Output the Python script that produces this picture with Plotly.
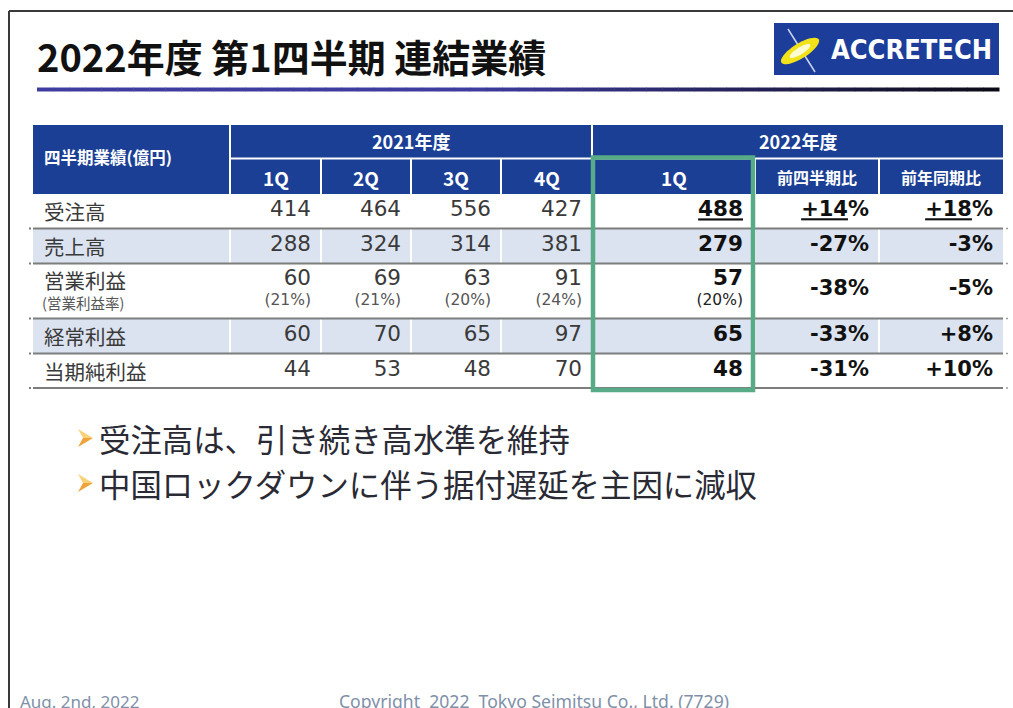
import numpy as np
import plotly.graph_objects as go

# ---------------- data ----------------
title_text = "2022年度 第1四半期 連結業績"
corner_header = "四半期業績(億円)"
fy2021_label = "2021年度"
fy2022_label = "2022年度"
fy2021_quarters = ["1Q", "2Q", "3Q", "4Q"]
fy2022_columns = ["1Q", "前四半期比", "前年同期比"]
row_labels = ["受注高", "売上高", "営業利益", "経常利益", "当期純利益"]
margin_label = "(営業利益率)"

q1_2021 = [414, 288, 60, 60, 44]
q2_2021 = [464, 324, 69, 70, 53]
q3_2021 = [556, 314, 63, 65, 48]
q4_2021 = [427, 381, 91, 97, 70]
op_margin_2021 = [21, 21, 20, 24]
q1_2022 = [488, 279, 57, 65, 48]
op_margin_2022 = 20
qoq_change = [14, -27, -38, -33, -31]
yoy_change = [18, -3, -5, 8, 10]

bullets = ["受注高は、引き続き高水準を維持", "中国ロックダウンに伴う据付遅延を主因に減収"]
footer_date = "Aug. 2nd, 2022"
footer_copy = "Copyright  2022  Tokyo Seimitsu Co., Ltd. (7729)"

# ---------------- layout constants ----------------
W, H = 1013, 708
JP = "Noto Sans CJK JP"
NUM = "DejaVu Sans"
HEAD_BLUE = "#1b3f95"
ROW_BLUE = "#dbe3f0"
GREEN = "#57ab86"

col_edges = [33, 230, 321, 411, 501, 592, 755, 879, 1003]
hdr_top, hdr_mid, hdr_bot = 125, 159, 194
row_edges = [194, 228.5, 263.5, 318.5, 353.5, 388]
row_y = [211, 245.5, 279.5, 336, 370.5]
margin_y = 301
pct_row_y = [211, 245.5, 290, 336, 370.5]
pad = 10

fig = go.Figure()
shapes = []
ann = []

# slide border
shapes.append(dict(type="line", x0=9, y0=11, x1=W, y1=11, line=dict(color="#3a3a3a", width=2)))
shapes.append(dict(type="line", x0=9, y0=11, x1=9, y1=H, line=dict(color="#3a3a3a", width=2)))

# title underline gradient
n_seg = 60
xs = np.linspace(37, 999, n_seg + 1)
for i in range(n_seg):
    t = i / n_seg
    k = 0 if t < 0.45 else (t - 0.45) / 0.55
    r = int(62 * (1 - k) + 10 * k)
    g = int(60 * (1 - k) + 10 * k)
    b = int(158 * (1 - k) + 20 * k)
    shapes.append(dict(type="line", x0=xs[i], x1=xs[i + 1] + 0.5, y0=89.5, y1=89.5,
                       line=dict(color=f"rgb({r},{g},{b})", width=4)))

# logo
shapes.append(dict(type="rect", x0=774, x1=999, y0=23, y1=75, fillcolor="#1d3d9b", line=dict(width=0)))
shapes.append(dict(type="line", x0=788, y0=29, x1=815, y1=72, line=dict(color="#c9d3ee", width=1.5)))
th = np.linspace(0, 2 * np.pi, 40)
ang = np.deg2rad(-32)
for (a, b_, col) in [(22, 7.5, "#f2e21a"), (12, 3.5, "#fffbd0")]:
    ex = 800 + a * np.cos(th) * np.cos(ang) - b_ * np.sin(th) * np.sin(ang)
    ey = 51 + a * np.cos(th) * np.sin(ang) + b_ * np.sin(th) * np.cos(ang)
    path = "M " + " L ".join(f"{x:.1f},{y:.1f}" for x, y in zip(ex, ey)) + " Z"
    shapes.append(dict(type="path", path=path, fillcolor=col, line=dict(width=0)))

# table backgrounds
shapes.append(dict(type="rect", x0=col_edges[0], x1=col_edges[-1], y0=hdr_top, y1=hdr_bot,
                   fillcolor=HEAD_BLUE, line=dict(width=0), layer="below"))
for ri in (1, 3):
    shapes.append(dict(type="rect", x0=col_edges[0], x1=col_edges[-1], y0=row_edges[ri], y1=row_edges[ri + 1],
                       fillcolor=ROW_BLUE, line=dict(width=0), layer="below"))
    for xe in col_edges[1:-1]:
        shapes.append(dict(type="line", x0=xe, x1=xe, y0=row_edges[ri], y1=row_edges[ri + 1],
                           line=dict(color="white", width=2)))
# header separators
shapes.append(dict(type="line", x0=col_edges[1], x1=col_edges[1], y0=hdr_top, y1=hdr_bot, line=dict(color="white", width=2)))
shapes.append(dict(type="line", x0=col_edges[5], x1=col_edges[5], y0=hdr_top, y1=hdr_bot, line=dict(color="white", width=2)))
shapes.append(dict(type="line", x0=col_edges[1], x1=col_edges[-1], y0=hdr_mid - 0.5, y1=hdr_mid - 0.5, line=dict(color="white", width=2)))
for xe in col_edges[2:-1]:
    shapes.append(dict(type="line", x0=xe, x1=xe, y0=hdr_mid, y1=hdr_bot, line=dict(color="white", width=2)))
# row rules
for ye in row_edges[1:]:
    shapes.append(dict(type="line", x0=col_edges[0], x1=col_edges[-1], y0=ye, y1=ye, line=dict(color="#7d7d7d", width=2)))
    shapes.append(dict(type="line", x0=29, x1=31, y0=ye, y1=ye, line=dict(color="#7d7d7d", width=2)))
    shapes.append(dict(type="line", x0=1006, x1=1008, y0=ye, y1=ye, line=dict(color="#9a9a9a", width=1.5)))
# green highlight box
shapes.append(dict(type="rect", x0=593, x1=753, y0=157.5, y1=390, line=dict(color=GREEN, width=4.5),
                   fillcolor="rgba(0,0,0,0)", layer="above"))

# bullet arrowheads
for by in (438, 483):
    shapes.append(dict(type="path", path=f"M 78,{by-9} L 93,{by} L 83,{by} Z", fillcolor="#fbd27a", line=dict(width=0)))
    shapes.append(dict(type="path", path=f"M 78,{by+9} L 93,{by} L 83,{by} Z", fillcolor="#f0a33a", line=dict(width=0)))

# ---------------- text annotations ----------------
def A(x, y, text, size, color="#1a1a1a", family=JP, xanchor="left", weight="normal"):
    ann.append(dict(x=x, y=y, xref="x", yref="y", text=text, showarrow=False, xanchor=xanchor,
                    yanchor="middle", font=dict(size=size, color=color, family=family, weight=weight)))

A(35, 55, f"<b>{title_text}</b>", 38, "#111111")
A(911, 49, "<b>ACCRETECH</b>", 27, "white", "Liberation Sans Narrow, DejaVu Sans Condensed, Liberation Sans", "center")

A(42, 157, corner_header, 16.5, "white", JP, weight="bold")
A((col_edges[1] + col_edges[5]) / 2, 141, fy2021_label, 18, "white", JP, "center", "bold")
A((col_edges[5] + col_edges[8]) / 2, 141, fy2022_label, 18, "white", JP, "center", "bold")
for i, q in enumerate(fy2021_quarters):
    A((col_edges[1 + i] + col_edges[2 + i]) / 2, 177, q, 19, "white", JP, "center", "bold")
for i, c in enumerate(fy2022_columns):
    A((col_edges[5 + i] + col_edges[6 + i]) / 2, 177, c, 19 if i == 0 else 16, "white", JP, "center", "bold")

for lbl, y in zip(row_labels, row_y):
    A(42, y, lbl, 20.5, "#3a3a3a")
A(40, margin_y + 1.5, margin_label, 14.5, "#555555")

for i, b in enumerate(bullets):
    A(97, 438 + 45 * i, b, 31.4, "#2a2a35")

A(18, 701, footer_date, 17, "#8090a8", "Noto Sans")
A(337, 701, footer_copy, 17.6, "#8090a8", "Noto Sans")

# ---------------- data values as text traces ----------------
def fmt_pct(v):
    return f"{v:+d}%"

cols_2021 = [q1_2021, q2_2021, q3_2021, q4_2021]
for i, vals in enumerate(cols_2021):
    xr = col_edges[2 + i] - pad
    fig.add_trace(go.Scatter(x=[xr] * len(vals), y=row_y, mode="text", text=[str(v) for v in vals],
                             textposition="middle left", cliponaxis=False, hoverinfo="skip",
                             textfont=dict(family=NUM, size=21.5, color="#3a3a3a")))
fig.add_trace(go.Scatter(x=[col_edges[2 + i] - pad for i in range(4)], y=[margin_y] * 4, mode="text",
                         text=[f"({m}%)" for m in op_margin_2021], textposition="middle left",
                         cliponaxis=False, hoverinfo="skip",
                         textfont=dict(family=NUM, size=15.5, color="#555555")))

x22 = col_edges[6] - 12
txt22 = [str(v) for v in q1_2022]
txt22[0] = f"<u>{q1_2022[0]}</u>"
fig.add_trace(go.Scatter(x=[x22] * 5, y=row_y, mode="text", text=txt22, textposition="middle left",
                         cliponaxis=False, hoverinfo="skip",
                         textfont=dict(family=NUM, size=21.5, color="#111111", weight="bold")))
fig.add_trace(go.Scatter(x=[x22], y=[margin_y], mode="text", text=[f"({op_margin_2022}%)"],
                         textposition="middle left", cliponaxis=False, hoverinfo="skip",
                         textfont=dict(family=NUM, size=15.5, color="#222222")))

for vals, xe in ((qoq_change, col_edges[7]), (yoy_change, col_edges[8])):
    t = [fmt_pct(v) for v in vals]
    t[0] = f"<u>{vals[0]:+d}</u>%"
    fig.add_trace(go.Scatter(x=[xe - pad] * 5, y=pct_row_y, mode="text", text=t, textposition="middle left",
                             cliponaxis=False, hoverinfo="skip",
                             textfont=dict(family=NUM, size=21, color="#111111", weight="bold")))

fig.update_layout(
    width=W, height=H, margin=dict(l=0, r=0, t=0, b=0),
    paper_bgcolor="white", plot_bgcolor="white", showlegend=False,
    xaxis=dict(range=[0, W], visible=False, fixedrange=True),
    yaxis=dict(range=[H, 0], visible=False, fixedrange=True),
    shapes=shapes, annotations=ann,
)
fig.write_html("out.html", config={"displayModeBar": False},
               post_script="document.body.style.margin='0';document.body.style.overflow='hidden';")
